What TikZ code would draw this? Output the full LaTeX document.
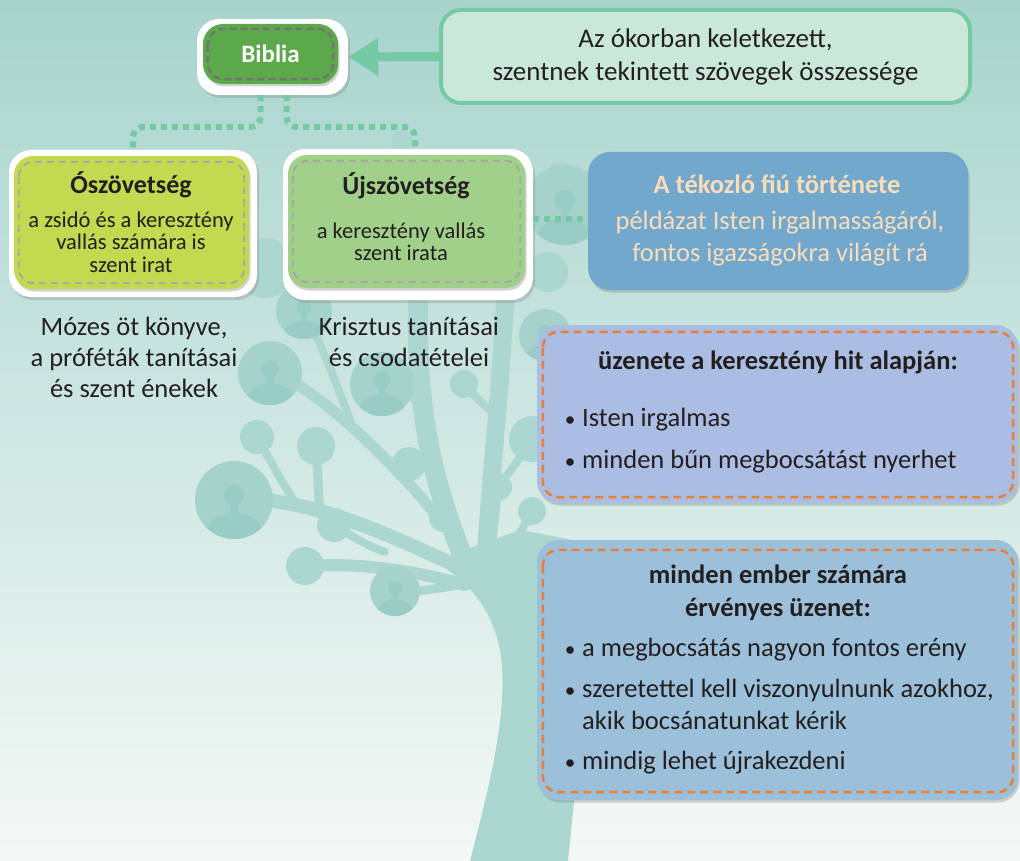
\documentclass[tikz,border=0pt]{standalone}
\usepackage{fontspec}
\usepackage{graphicx}
\setmainfont{Carlito}
\usetikzlibrary{shadows,arrows.meta,calc}

\definecolor{bgtop}{HTML}{A7D4CD}
\definecolor{bgmid}{HTML}{CFE7E2}
\definecolor{bgbot}{HTML}{F4F8F6}
\definecolor{treec}{HTML}{ABD7D0}
\definecolor{circc}{HTML}{A5D3CC}
\definecolor{personc}{HTML}{99CCC4}
\definecolor{mint}{HTML}{76C9A5}
\definecolor{mintfill}{HTML}{C9E8D9}
\definecolor{bibgreen}{HTML}{5BA94B}
\definecolor{oldgreen}{HTML}{C3D94F}
\definecolor{newgreen}{HTML}{A1D08A}
\definecolor{parblue}{HTML}{72A8CC}
\definecolor{peach}{HTML}{F9DDBB}
\definecolor{lilac}{HTML}{ABBDE2}
\definecolor{skyblue}{HTML}{9CC0DA}
\definecolor{dashorange}{HTML}{E97F37}
\definecolor{inkc}{HTML}{231F20}

\newcommand{\setfs}[2]{\fontsize{#1}{#2}\selectfont\lineskiplimit=-30pt\relax}
\newcommand{\bul}{\makebox[12pt][c]{\scalebox{0.8}{•}}\hspace*{6pt}}

% a round leaf of the tree with a person silhouette: x, y, radius
\newcommand{\avatar}[3]{%
  \fill[circc] (#1,#2) circle[radius=#3pt];
  \begin{scope}
    \clip (#1,#2) circle[radius=#3pt];
    \fill[personc] ({#1},{#2-0.12*#3}) circle[radius=0.27*#3pt];
    \fill[personc] ({#1-0.1*#3},{#2+0.05*#3}) rectangle ({#1+0.1*#3},{#2+0.4*#3});
    \fill[personc] ({#1-0.78*#3},{#2+#3}) .. controls ({#1-0.75*#3},{#2+0.1*#3}) and ({#1+0.75*#3},{#2+0.1*#3}) .. ({#1+0.78*#3},{#2+#3}) -- cycle;
  \end{scope}}

\begin{document}
\begin{tikzpicture}[x=1pt,y=-1pt,
  whiteframe/.style={fill=white, rounded corners=22pt, inner sep=0pt,
    drop shadow={shadow xshift=2pt, shadow yshift=-3pt, opacity=0.3}},
  colorbox/.style={rounded corners=19pt, inner sep=0pt,
    drop shadow={shadow xshift=1.5pt, shadow yshift=-2.5pt, opacity=0.35}},
  softdash/.style={draw=black!35, line width=1.8pt, dash pattern=on 7pt off 5pt, rounded corners=15pt},
  darkdash/.style={draw=black!55, line width=2.2pt, dash pattern=on 7pt off 4pt, rounded corners=16pt},
  orangedash/.style={draw=dashorange, line width=2.5pt, dash pattern=on 8pt off 5pt, rounded corners=16pt},
  conn/.style={draw=mint, line width=6pt, dash pattern=on 6pt off 5pt, rounded corners=10pt},
  titletext/.style={font=\bfseries\setfs{26}{30}, text=inkc, inner sep=0pt, anchor=base},
  smalltext/.style={font=\setfs{22.5}{22.5}, align=center, text=inkc, inner sep=0pt},
  bigtext/.style={font=\setfs{26.5}{31.5}, align=center, text=inkc, inner sep=0pt},
  listtext/.style={font=\setfs{26.5}{32}, align=left, text=inkc, inner sep=0pt, anchor=west},
  branch/.style={draw=treec, line cap=round}
]
\useasboundingbox (0,0) rectangle (1020,861);
\shade[top color=bgtop, bottom color=bgbot, middle color=bgmid] (0,0) rectangle (1020,861);

% ---------- the tree in the background ----------
\begin{scope}
\clip (0,0) rectangle (1020,861);
\fill[treec] (470,861) .. controls (488,790) and (510,710) .. (500,650)
  .. controls (492,610) and (472,588) .. (448,570) -- (470,548) -- (520,530)
  -- (600,545) -- (568,861) -- cycle;
\draw[branch, line width=20pt] (470,575) .. controls (440,500) and (415,430) .. (418,300)
  .. controls (420,240) and (412,190) .. (402,140);
\draw[branch, line width=18pt] (485,570) .. controls (490,480) and (500,400) .. (505,300)
  .. controls (510,240) and (530,200) .. (560,170);
\draw[branch, line width=14pt] (455,565) .. controls (410,545) and (330,505) .. (262,500);
\draw[branch, line width=12pt] (465,585) .. controls (420,572) and (360,562) .. (310,566);
\draw[branch, line width=9pt] (320,513) .. controls (318,490) and (318,470) .. (316,450);
\draw[branch, line width=8pt] (298,507) .. controls (280,480) and (268,455) .. (258,440);
\draw[branch, line width=8pt] (385,552) .. controls (365,545) and (350,535) .. (335,526);
\draw[branch, line width=9pt] (458,585) .. controls (430,590) and (410,592) .. (395,592);
\draw[branch, line width=11pt] (440,520) .. controls (400,470) and (340,410) .. (290,380);
\draw[branch, line width=8pt] (432,470) -- (409,464);
\draw[branch, line width=9pt] (420,400) -- (385,388);
\draw[branch, line width=8pt] (500,420) .. controls (485,405) and (472,395) .. (464,384);
\draw[branch, line width=8pt] (492,545) .. controls (495,520) and (497,500) .. (498,487);
\draw[branch, line width=8pt] (505,560) .. controls (515,540) and (525,525) .. (532,511);
\draw[branch, line width=8pt] (503,480) .. controls (515,465) and (525,450) .. (532,439);
\draw[branch, line width=8pt] (350,420) .. controls (335,380) and (320,340) .. (304,312);
\draw[branch, line width=8pt] (412,260) .. controls (360,262) and (300,265) .. (265,268);
\draw[branch, line width=8pt] (512,280) .. controls (525,275) and (538,272) .. (548,272);
\foreach \cx/\cy/\r in {257/437/17, 316/446/19, 334/525/17, 305/566/19, 409/464/17,
  443/518/14, 464/384/14, 498/487/14, 532/511/14, 532/439/23, 265/268/30, 548/272/20}
  \fill[treec] (\cx,\cy) circle[radius=\r pt];
\avatar{234}{500}{39}
\avatar{270}{373}{32}
\avatar{382}{384}{32}
\avatar{395}{591}{25}
\avatar{304}{311}{28}
\avatar{565}{205}{40}
\avatar{545}{335}{26}
\end{scope}

% ---------- definition box and arrow ----------
\node[draw=mint, line width=4pt, fill=mintfill, rounded corners=20pt,
  minimum width=529pt, minimum height=93pt, align=center,
  font=\setfs{27}{33}, text=inkc] (defn) at (705.5,56.5)
  {Az ókorban keletkezett,\\szentnek tekintett szövegek összessége};

% ---------- Biblia ----------
\node[whiteframe, rounded corners=22pt, minimum width=151pt, minimum height=76pt] (bibF) at (272.5,57) {};
\node[colorbox, rounded corners=20pt, fill=bibgreen, minimum width=135pt, minimum height=60pt,
  font=\bfseries\setfs{25}{30}, text=white] (bibB) at (270.5,54) {Biblia};
\draw[darkdash] ([shift={(5pt,-5pt)}]bibB.north west) rectangle ([shift={(-5pt,5pt)}]bibB.south east);

\draw[mint, line width=9pt, -{Triangle[length=30pt,width=36pt]}] (defn.west) -- (bibF.east);

% ---------- Ószövetség ----------
\node[whiteframe, minimum width=248pt, minimum height=147pt] (oldF) at (133,223.5) {};
\node[colorbox, fill=oldgreen, minimum width=235pt, minimum height=133pt] (oldB) at (131.5,222.5) {};
\draw[softdash] ([shift={(5pt,-6pt)}]oldB.north west) rectangle ([shift={(-5pt,6pt)}]oldB.south east);
\node[titletext] (oldT) at (131,194) {Ószövetség};
\node[smalltext] (oldD) at (131,242) {a zsidó és a keresztény\\vallás számára is\\szent irat};

% ---------- Újszövetség ----------
\node[whiteframe, minimum width=250pt, minimum height=151pt] (newF) at (408,224.5) {};
\node[colorbox, fill=newgreen, minimum width=237pt, minimum height=133pt] (newB) at (406.5,221.5) {};
\draw[softdash] ([shift={(5pt,-6pt)}]newB.north west) rectangle ([shift={(-5pt,6pt)}]newB.south east);
\node[titletext] (newT) at (406,195) {Újszövetség};
\node[smalltext] (newD) at (401,242) {a keresztény vallás\\szent irata};

% ---------- the parable ----------
\node[colorbox, rounded corners=22pt, fill=parblue, minimum width=380pt, minimum height=138pt] (par) at (778,221) {};
\node[titletext, text=peach, font=\bfseries\setfs{26.5}{31.5}] (parT) at (777,194) {A tékozló fiú története};
\node[bigtext, text=peach] (parD) at (780,238.5) {példázat Isten irgalmasságáról,\\fontos igazságokra világít rá};

% ---------- connectors ----------
\coordinate (jy) at (0,127);
\draw[conn] ([xshift=-12pt]bibF.south) |- (oldF.north |- jy) -- (oldF.north);
\draw[conn] ([xshift=14pt]bibF.south) |- ([xshift=7pt]newF.north |- jy) -- ([xshift=7pt]newF.north);
\draw[conn] ([yshift=5pt]newF.east) -- ([yshift=5pt]newF.east -| par.west);

% ---------- notes under the testaments ----------
\node[bigtext, font=\setfs{26.5}{31}] (oldN) at (134,357) {Mózes öt könyve,\\a próféták tanításai\\és szent énekek};
\node[bigtext, font=\setfs{26.5}{31}] (newN) at (409,341.5) {Krisztus tanításai\\és csodatételei};

% ---------- message of the Christian faith ----------
\node[colorbox, rounded corners=22pt, fill=lilac, minimum width=481pt, minimum height=178pt] (msgA) at (777.5,414) {};
\draw[orangedash] ([shift={(6pt,-7pt)}]msgA.north west) rectangle ([shift={(-5pt,6pt)}]msgA.south east);
\node[titletext, font=\bfseries\setfs{26.5}{32}] (msgAT) at (778,369) {üzenete a keresztény hit alapján:};
\node[listtext] (msgAL) at (564,441) {\bul Isten irgalmas\\[10pt]\bul minden bűn megbocsátást nyerhet};

% ---------- message for everyone ----------
\node[colorbox, rounded corners=22pt, fill=skyblue, minimum width=481pt, minimum height=260pt] (msgB) at (777.5,670) {};
\draw[orangedash] ([shift={(6pt,-10pt)}]msgB.north west) rectangle ([shift={(-5pt,8pt)}]msgB.south east);
\node[bigtext, font=\bfseries\setfs{26.5}{33}] (msgBT) at (778,593) {minden ember számára\\érvényes üzenet:};
\node[listtext] (msgBL) at (564,706.5) {\bul a megbocsátás nagyon fontos erény\\[9pt]%
  \bul szeretettel kell viszonyulnunk azokhoz,\\\hspace*{18pt}akik bocsánatunkat kérik\\[8pt]%
  \bul mindig lehet újrakezdeni};
\end{tikzpicture}
\end{document}
